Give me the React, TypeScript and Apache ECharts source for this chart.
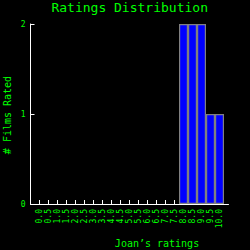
import React, { useEffect, useRef } from "react";
import * as echarts from "echarts";

const ratings = ["0.0","0.5","1.0","1.5","2.0","2.5","3.0","3.5","4.0","4.5","5.0","5.5","6.0","6.5","7.0","7.5","8.0","8.5","9.0","9.5","10.0"];
const counts = [0,0,0,0,0,0,0,0,0,0,0,0,0,0,0,0,2,2,2,1,1];
const yTicks = [0, 1, 2];

const GREEN = "#00ff00";
const FONT = "DejaVu Sans Mono";

export default function App() {
  const ref = useRef<HTMLDivElement>(null);
  useEffect(() => {
    if (!ref.current) return;
    const chart = echarts.init(ref.current, null, { renderer: "svg" });
    const cats = ["", ...ratings, ""];
    const vals = [null, ...counts.map((c) => (c === 0 ? null : c)), null];
    chart.setOption({
      animation: false,
      backgroundColor: "#000000",
      title: {
        text: "Ratings Distribution",
        left: 129.7,
        textAlign: "center",
        top: 1,
        padding: 0,
        textStyle: { color: GREEN, fontFamily: FONT, fontSize: 13, fontWeight: "normal" },
      },
      graphic: [
        {
          type: "text",
          x: 157,
          y: 243,
          style: {
            text: "Joan\u2019s ratings",
            fill: GREEN,
            font: `10px "${FONT}"`,
            textAlign: "center",
            textVerticalAlign: "middle",
          },
        },
        {
          type: "text",
          x: 7.5,
          y: 115,
          rotation: Math.PI / 2,
          style: {
            text: "# Films Rated",
            fill: GREEN,
            font: `10px "${FONT}"`,
            textAlign: "center",
            textVerticalAlign: "middle",
          },
        },
      ],
      grid: { left: 30.5, right: 21.5, top: 24, bottom: 46, containLabel: false, outerBoundsMode: "none" },
      xAxis: {
        type: "category",
        data: cats,
        boundaryGap: false,
        axisLine: { lineStyle: { color: "#ffffff", width: 1 } },
        axisTick: {
          inside: true,
          length: 4,
          interval: (i: number, v: string) => v !== "",
          lineStyle: { color: "#ffffff" },
        },
        axisLabel: {
          interval: 0,
          rotate: 90,
          margin: 5,
          hideOverlap: false,
          color: GREEN,
          fontFamily: FONT,
          fontSize: 8,
        },
        splitLine: { show: false },
      },
      yAxis: {
        type: "value",
        min: yTicks[0],
        max: yTicks[yTicks.length - 1],
        interval: 1,
        axisLine: { show: true, lineStyle: { color: "#ffffff", width: 1 } },
        axisTick: { show: true, inside: true, length: 4, lineStyle: { color: "#ffffff" } },
        axisLabel: { color: GREEN, fontFamily: FONT, fontSize: 8, margin: 5 },
        splitLine: { show: false },
      },
      series: [
        {
          type: "bar",
          data: vals,
          barWidth: 9,
          itemStyle: { color: "#0000ff", borderColor: "#808080", borderWidth: 1.2 },
        },
      ],
    });
    return () => chart.dispose();
  }, []);
  return <div ref={ref} style={{ width: 250, height: 250, position: "absolute", left: 0, top: 0 }} />;
}
